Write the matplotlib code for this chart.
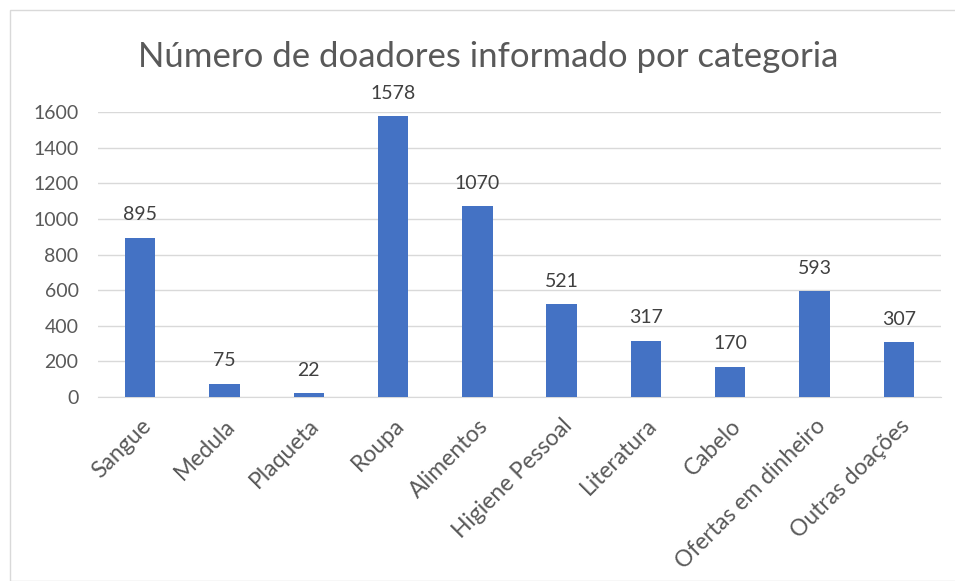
import matplotlib
matplotlib.use("Agg")
import matplotlib.pyplot as plt
from matplotlib.patches import Rectangle

categories = ["Sangue", "Medula", "Plaqueta", "Roupa", "Alimentos", "Higiene Pessoal",
              "Literatura", "Cabelo", "Ofertas em dinheiro", "Outras doações"]
values = [895, 75, 22, 1578, 1070, 521, 317, 170, 593, 307]
yticks = [0, 200, 400, 600, 800, 1000, 1200, 1400, 1600]
title = "Número de doadores informado por categoria"

plt.rcParams['font.family'] = ['Lato', 'DejaVu Sans']
text_color = "#595959"

fig = plt.figure(figsize=(9.55, 5.81), dpi=100)
W, H = 955, 581
ax = fig.add_axes([98 / W, 1 - 397 / H, (941 - 98) / W, (397 - 112) / H])

x = list(range(len(categories)))
bars = ax.bar(x, values, width=0.36, color="#4472C4", zorder=3)
for xi, v in zip(x, values):
    ax.text(xi, v + 80, str(v), ha="center", va="bottom", fontsize=14,
            color="#404040", clip_on=False)

ax.set_xlim(-0.5, len(categories) - 0.5)
ax.set_ylim(0, 1600)
ax.set_yticks(yticks)
ax.set_yticklabels([str(t) for t in yticks], fontsize=14, color=text_color)
ax.set_xticks(x)
ax.set_xticklabels(categories, rotation=45, ha="right", rotation_mode="anchor",
                   fontsize=16.5, color=text_color)
ax.tick_params(axis="y", length=0, pad=14)
ax.tick_params(axis="x", length=0, pad=13)
ax.grid(axis="y", color="#D9D9D9", linewidth=1, zorder=0)
for s in ["top", "right", "left"]:
    ax.spines[s].set_visible(False)
ax.spines["bottom"].set_color("#D9D9D9")

fig.text(488 / W, 1 - 57 / H, title, ha="center", va="center", fontsize=25,
         color=text_color)

fig.patches.append(Rectangle((10 / W, 0), 1.0, 1 - 10 / H, transform=fig.transFigure,
                             fill=False, edgecolor="#D9D9D9", linewidth=1))

fig.savefig("out.png", dpi=100)
